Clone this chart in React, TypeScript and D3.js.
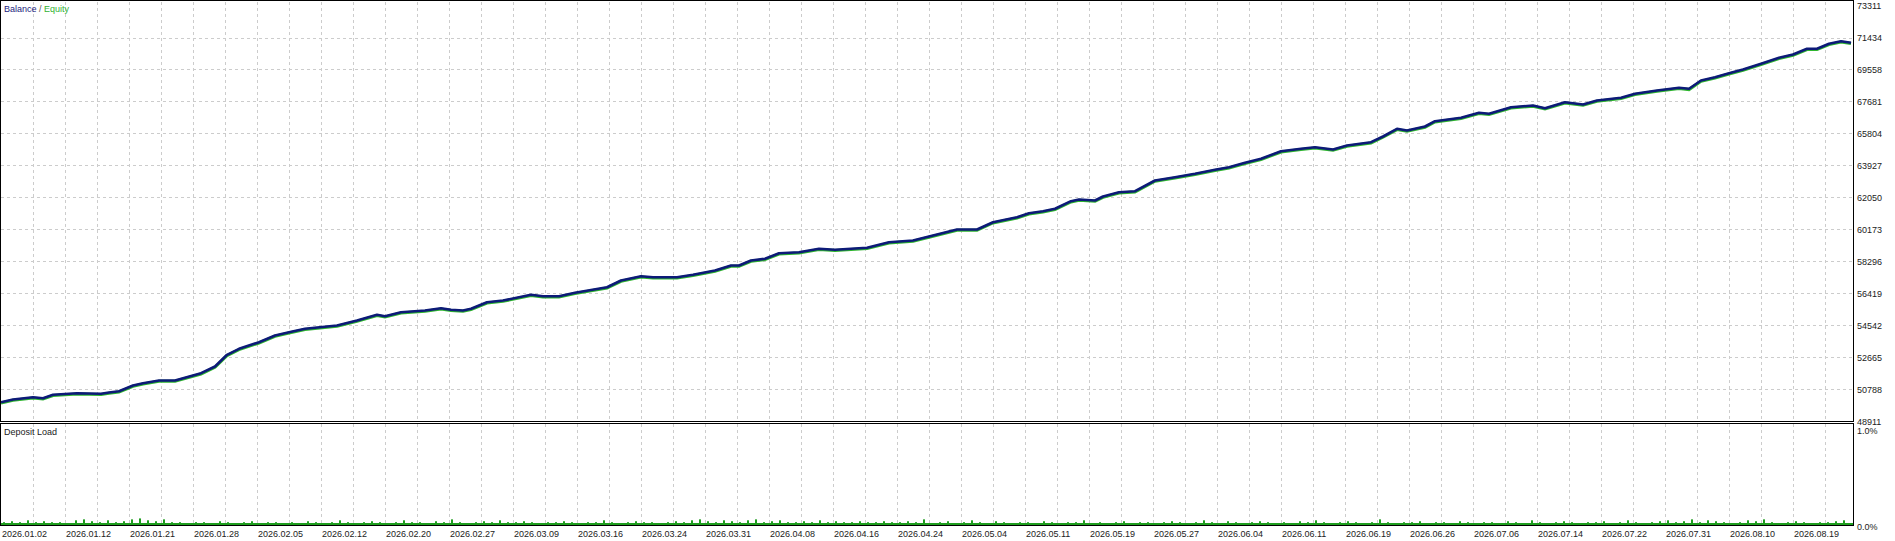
import * as d3 from "d3";

// balance curve: deal number -> balance
const deals = [0, 6, 16, 21, 26, 38, 50, 54, 59, 66, 71, 79, 87, 100, 107, 113, 119, 129, 137, 144, 152, 168, 178, 188, 192, 200, 212, 220, 225, 231, 235, 243, 251, 265, 271, 279, 287, 303, 310, 320, 326, 338, 346, 357, 365, 369, 375, 382, 389, 399, 409, 417, 433, 444, 456, 464, 478, 488, 496, 508, 514, 521, 527, 535, 539, 547, 551, 559, 567, 577, 587, 597, 607, 614, 622, 630, 640, 650, 657, 666, 673, 685, 691, 698, 703, 712, 717, 730, 739, 744, 755, 766, 772, 782, 791, 798, 810, 817, 828, 839, 844, 850, 857, 864, 871, 880, 889, 896, 903, 908, 914, 920, 925];
const balance = [50043, 50201, 50336, 50278, 50477, 50571, 50536, 50612, 50688, 51023, 51158, 51316, 51316, 51744, 52137, 52823, 53175, 53562, 53955, 54149, 54348, 54542, 54835, 55170, 55088, 55322, 55422, 55557, 55463, 55422, 55522, 55909, 56008, 56343, 56261, 56261, 56460, 56788, 57182, 57434, 57375, 57375, 57516, 57768, 58061, 58061, 58355, 58454, 58783, 58841, 59041, 58982, 59100, 59428, 59528, 59762, 60173, 60173, 60601, 60894, 61129, 61246, 61387, 61833, 61933, 61874, 62109, 62361, 62420, 63047, 63241, 63440, 63675, 63827, 64085, 64320, 64766, 64907, 65000, 64865, 65100, 65294, 65628, 66080, 65980, 66215, 66525, 66725, 67018, 66959, 67347, 67446, 67288, 67640, 67505, 67740, 67898, 68133, 68326, 68485, 68426, 68913, 69106, 69341, 69558, 69892, 70244, 70438, 70772, 70772, 71065, 71218, 71124];

// deposit load (%), one value per 4 deals
const depositLoad = [
  0.03, 0.04, 0.03, 0.05, 0.03, 0.04, 0.03, 0.03, 0.02, 0.05, 0.06, 0.04, 0.03, 0.05, 0.03, 0.04,
  0.06, 0.07, 0.05, 0.04, 0.06, 0.03, 0.03, 0.02, 0.03, 0.03, 0.02, 0.04, 0.03, 0.02, 0.03, 0.04,
  0.02, 0.03, 0.03, 0.02, 0.03, 0.02, 0.04, 0.03, 0.02, 0.03, 0.05, 0.03, 0.02, 0.03, 0.04, 0.03,
  0.02, 0.03, 0.05, 0.03, 0.03, 0.02, 0.04, 0.03, 0.06, 0.03, 0.02, 0.03, 0.04, 0.03, 0.05, 0.03,
  0.03, 0.04, 0.03, 0.02, 0.03, 0.03, 0.04, 0.03, 0.02, 0.03, 0.03, 0.05, 0.03, 0.02, 0.03, 0.04,
  0.03, 0.03, 0.02, 0.03, 0.04, 0.03, 0.05, 0.06, 0.04, 0.03, 0.05, 0.04, 0.03, 0.05, 0.06, 0.03,
  0.04, 0.05, 0.03, 0.03, 0.04, 0.03, 0.05, 0.03, 0.04, 0.03, 0.03, 0.04, 0.03, 0.03, 0.04, 0.03,
  0.03, 0.04, 0.03, 0.06, 0.02, 0.03, 0.04, 0.02, 0.03, 0.05, 0.03, 0.02, 0.04, 0.03, 0.02, 0.03,
  0.03, 0.02, 0.04, 0.03, 0.02, 0.03, 0.03, 0.05, 0.02, 0.03, 0.02, 0.03, 0.04, 0.02, 0.03, 0.03,
  0.02, 0.03, 0.04, 0.03, 0.02, 0.03, 0.05, 0.03, 0.02, 0.04, 0.03, 0.02, 0.03, 0.04, 0.03, 0.02,
  0.03, 0.02, 0.04, 0.03, 0.05, 0.03, 0.02, 0.03, 0.04, 0.03, 0.02, 0.03, 0.06, 0.03, 0.02, 0.03,
  0.03, 0.04, 0.02, 0.03, 0.03, 0.02, 0.04, 0.03, 0.02, 0.03, 0.03, 0.02, 0.04, 0.03, 0.02, 0.05,
  0.03, 0.02, 0.03, 0.04, 0.03, 0.02, 0.03, 0.03, 0.04, 0.02, 0.03, 0.05, 0.03, 0.02, 0.03, 0.04,
  0.05, 0.03, 0.04, 0.06, 0.03, 0.05, 0.04, 0.03, 0.02, 0.03, 0.05, 0.04, 0.06, 0.03, 0.02, 0.03,
  0.04, 0.03, 0.02, 0.03, 0.03, 0.04, 0.05,
];

const dateLabels = ["2026.01.02", "2026.01.12", "2026.01.21", "2026.01.28", "2026.02.05", "2026.02.12", "2026.02.20", "2026.02.27", "2026.03.09", "2026.03.16", "2026.03.24", "2026.03.31", "2026.04.08", "2026.04.16", "2026.04.24", "2026.05.04", "2026.05.11", "2026.05.19", "2026.05.27", "2026.06.04", "2026.06.11", "2026.06.19", "2026.06.26", "2026.07.06", "2026.07.14", "2026.07.22", "2026.07.31", "2026.08.10", "2026.08.19"];

const yTicks = [48911, 50788, 52665, 54542, 56419, 58296, 60173, 62050, 63927, 65804, 67681, 69558, 71434, 73311];

const W = 1895;
const H = 541;
const font = "Liberation Sans, Arial, sans-serif";

export default function App() {
  const x = d3.scaleLinear().domain([0, 926]).range([1, 1853]);
  const y = d3.scaleLinear().domain([48911, 73311]).range([421.5, 5.5]);
  const yLoad = d3.scaleLinear().domain([0, 1]).range([525, 431]);

  const pts = deals.map((d, i) => [d, balance[i]] as [number, number]);
  const line = d3.line<[number, number]>().x(d => x(d[0])).y(d => y(d[1]));

  const gridX = d3.range(16, 926, 16);

  return (
    <svg width={W} height={H} style={{ position: "absolute", left: 0, top: 0, background: "#fff" }}>
      {/* grid */}
      <g stroke="#cccccc" strokeDasharray="3,3" strokeWidth={1}>
        {gridX.map(d => (
          <line key={"vx" + d} x1={Math.round(x(d)) + 0.5} x2={Math.round(x(d)) + 0.5} y1={2} y2={421} />
        ))}
        {yTicks.slice(1, -1).map(t => (
          <line key={"hy" + t} x1={1} x2={1853} y1={Math.round(y(t)) + 0.5} y2={Math.round(y(t)) + 0.5} />
        ))}
        {gridX.map(d => (
          <line key={"vl" + d} x1={Math.round(x(d)) + 0.5} x2={Math.round(x(d)) + 0.5} y1={424} y2={525} />
        ))}
      </g>

      {/* equity + balance */}
      <path d={line(pts) ?? ""} fill="none" stroke="#2fb52f" strokeWidth={3} transform="translate(0,0.8)" />
      <path d={line(pts) ?? ""} fill="none" stroke="#0d1a78" strokeWidth={2.6} strokeLinejoin="round" />

      {/* deposit load */}
      <g fill="#1f9e1f">
        {depositLoad.map((v, i) => (
          <rect key={"dl" + i} x={x(i * 4) + 2} y={yLoad(v)} width={2} height={yLoad(0) - yLoad(v)} />
        ))}
      </g>
      <line x1={1} x2={1853} y1={524} y2={524} stroke="#1f9e1f" strokeWidth={2} />

      {/* frames */}
      <rect x={0.5} y={0.5} width={1853} height={421} fill="none" stroke="#000" />
      <rect x={0.5} y={423.5} width={1853} height={102} fill="none" stroke="#000" />

      {/* titles */}
      <text x={4} y={12} fontFamily={font} fontSize={9}>
        <tspan fill="#1c1c80">Balance</tspan>
        <tspan fill="#555"> / </tspan>
        <tspan fill="#33b233">Equity</tspan>
      </text>
      <text x={4} y={435} fontFamily={font} fontSize={9} fill="#222">Deposit Load</text>

      {/* right axis */}
      {yTicks.map(t => (
        <text key={"yt" + t} x={1857} y={y(t)} dy="0.35em" fontFamily={font} fontSize={9} fill="#222">{t}</text>
      ))}
      <text x={1857} y={431} dy="0.35em" fontFamily={font} fontSize={9} fill="#222">1.0%</text>
      <text x={1857} y={527} dy="0.35em" fontFamily={font} fontSize={9} fill="#222">0.0%</text>

      {/* date axis */}
      {dateLabels.map((lab, i) => (
        <text key={lab} x={x(i * 32) + 1} y={537} fontFamily={font} fontSize={9} fill="#222">{lab}</text>
      ))}
    </svg>
  );
}
